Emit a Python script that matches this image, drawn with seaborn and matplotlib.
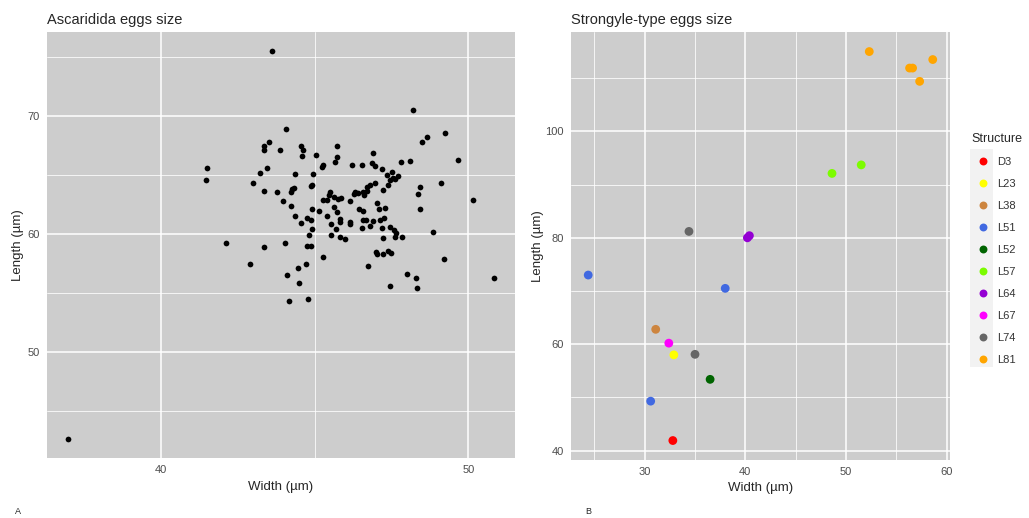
import numpy as np
import pandas as pd
import seaborn as sns
import matplotlib.pyplot as plt
from matplotlib.patches import Rectangle

# Panel A - Ascaridida eggs (width, length in µm)
asc_width = [
    41.49, 41.47, 42.12, 36.99,
    43.63, 48.21, 44.07, 48.67, 48.48, 49.24, 43.52, 43.36, 43.35, 43.88,
    44.55, 44.63, 44.60, 45.74, 45.04, 45.74, 45.68, 45.27, 45.23, 46.23,
    46.56, 46.91, 46.88, 46.97, 47.21, 47.82, 48.11, 49.67, 43.47, 43.22,
    43.00, 44.35, 44.95, 47.51, 47.37, 47.70, 47.56, 47.47, 47.62, 47.39,
    46.98, 46.82, 46.70, 46.72, 47.23, 48.42, 49.12, 48.37, 48.42, 50.16,
    43.37, 43.77, 44.22, 44.27, 44.33, 44.88, 44.92, 43.98, 44.23, 45.50,
    45.46, 45.42, 45.29, 45.64, 45.75, 45.85, 46.14, 46.31, 46.30, 46.40,
    46.58, 46.60, 45.62, 45.72, 44.92, 45.14, 44.36, 44.55, 44.74, 44.88,
    44.93, 44.82, 45.42, 45.54, 45.82, 45.84, 45.70, 45.53, 45.82, 46.00,
    46.14, 46.14, 46.45, 46.57, 47.03, 47.09, 47.29, 46.58, 46.67, 46.90,
    47.12, 47.25, 46.54, 46.79, 47.18, 47.44, 47.58, 47.66, 47.63, 47.84,
    47.24, 48.84, 44.04,
    43.35, 44.74, 44.87, 42.90, 45.29, 44.11, 44.47, 44.72, 44.50, 44.16,
    44.78, 46.75, 47.01, 47.03, 47.23, 47.39, 47.49, 49.22, 48.02, 48.30,
    48.33, 47.45, 50.83,
]
asc_length = [
    65.56, 64.52, 59.21, 42.63,
    75.45, 70.53, 68.90, 68.16, 67.77, 68.56, 67.77, 67.43, 67.09, 67.06,
    67.40, 67.14, 66.58, 67.45, 66.66, 66.52, 66.10, 65.84, 65.68, 65.79,
    65.79, 66.83, 66.01, 65.73, 65.48, 66.10, 66.18, 66.27, 65.56, 65.14,
    64.29, 65.05, 65.05, 65.25, 64.94, 64.86, 64.71, 64.52, 64.60, 64.15,
    64.29, 64.09, 63.92, 63.64, 63.73, 63.98, 64.29, 63.36, 62.06, 62.85,
    63.61, 63.56, 63.53, 63.81, 63.87, 64.04, 64.15, 62.79, 62.37, 63.56,
    63.30, 62.82, 62.85, 63.10, 62.96, 62.99, 62.77, 63.58, 63.33, 63.42,
    63.53, 63.25, 62.26, 61.83, 62.06, 61.89, 61.49, 60.90, 61.33, 61.13,
    60.42, 59.86, 61.49, 60.82, 61.21, 60.99, 60.42, 59.86, 59.69, 59.57,
    60.99, 60.79, 62.06, 61.97, 62.62, 62.09, 62.20, 61.18, 61.18, 61.10,
    61.18, 61.33, 60.48, 60.65, 60.48, 60.53, 60.31, 60.08, 59.72, 59.69,
    59.63, 60.17, 59.23,
    58.90, 58.99, 58.99, 57.40, 58.03, 56.53, 57.12, 57.46, 55.79, 54.30,
    54.44, 57.24, 58.45, 58.28, 58.31, 58.51, 58.34, 57.86, 56.59, 56.27,
    55.40, 55.54, 56.27,
]

# Panel B - Strongyle-type eggs
str_structure = ["D3", "L23", "L38", "L51", "L51", "L51", "L52", "L57", "L57",
                 "L64", "L64", "L67", "L74", "L74",
                 "L81", "L81", "L81", "L81", "L81"]
str_width = [32.8, 32.9, 31.1, 24.4, 38.0, 30.6, 36.5, 51.5, 48.6,
             40.2, 40.4, 32.4, 35.0, 34.4,
             52.3, 56.3, 56.6, 58.6, 57.3]
str_length = [41.9, 58.0, 62.8, 73.0, 70.5, 49.3, 53.4, 93.7, 92.1,
              80.0, 80.4, 60.2, 58.1, 81.2,
              115.0, 111.9, 111.9, 113.5, 109.4]

structure_levels = ["D3", "L23", "L38", "L51", "L52", "L57", "L64", "L67", "L74", "L81"]
structure_colors = ["#ff0000", "#ffff00", "#cd853f", "#4169e1", "#006400",
                    "#7cfc00", "#9400d3", "#ff00ff", "#666666", "#ffa500"]

PANEL = "#cdcdcd"
TICK = "#4d4d4d"


def gg_limits(values, mult=0.05):
    lo, hi = min(values), max(values)
    pad = (hi - lo) * mult
    return lo - pad, hi + pad


def gg_style(ax, xmajor, xminor, ymajor, yminor):
    ax.set_facecolor(PANEL)
    for s in ax.spines.values():
        s.set_visible(False)
    ax.set_xticks(xmajor)
    ax.set_yticks(ymajor)
    ax.set_xticks(xminor, minor=True)
    ax.set_yticks(yminor, minor=True)
    ax.grid(True, which="major", color="white", linewidth=1.1)
    ax.grid(True, which="minor", color="white", linewidth=0.55)
    ax.set_axisbelow(True)
    ax.tick_params(which="major", length=3, width=0.8, color=TICK,
                   labelcolor=TICK, labelsize=8, pad=2)
    ax.tick_params(which="minor", length=0)


sns.set_style("white")
plt.rcParams["font.family"] = ["Liberation Sans", "DejaVu Sans"]

fig = plt.figure(figsize=(10.29, 5.18), dpi=100)
ax1 = fig.add_axes([0.0457, 0.1158, 0.4548, 0.8222])
ax2 = fig.add_axes([0.5549, 0.1120, 0.3683, 0.8260])

df_a = pd.DataFrame({"Width": asc_width, "Length": asc_length})
sns.scatterplot(data=df_a, x="Width", y="Length", ax=ax1, color="black",
                s=17, linewidth=0, legend=False)
ax1.set_xlim(*gg_limits(asc_width))
ax1.set_ylim(*gg_limits(asc_length))
gg_style(ax1, [40, 50], [45], [50, 60, 70], [45, 55, 65, 75])
ax1.set_title("Ascaridida eggs size", loc="left", fontsize=10.5, pad=6)
ax1.set_xlabel("Width (µm)", fontsize=9.5, labelpad=4)
ax1.set_ylabel("Length (µm)", fontsize=9.5, labelpad=3)

df_b = pd.DataFrame({"Width": str_width, "Length": str_length,
                     "Structure": str_structure})
sns.scatterplot(data=df_b, x="Width", y="Length", hue="Structure",
                hue_order=structure_levels,
                palette=dict(zip(structure_levels, structure_colors)),
                ax=ax2, s=40, linewidth=0)
ax2.set_xlim(*gg_limits(str_width))
ax2.set_ylim(*gg_limits(str_length))
gg_style(ax2, [30, 40, 50, 60], [25, 35, 45, 55],
         [40, 60, 80, 100], [50, 70, 90, 110])
ax2.set_title("Strongyle-type eggs size", loc="left", fontsize=10.5, pad=6)
ax2.set_xlabel("Width (µm)", fontsize=9.5, labelpad=4)
ax2.set_ylabel("Length (µm)", fontsize=9.5, labelpad=1)

# legend keys background strip (behind everything)
fig.patches.append(Rectangle((970 / 1029, 1 - 367 / 518), 23 / 1029, 218 / 518,
                             transform=fig.transFigure, facecolor="#f2f2f2",
                             edgecolor="none", zorder=-5))
sns.move_legend(ax2, "upper left", bbox_to_anchor=(1.045, 0.775), frameon=False,
                title="Structure", fontsize=8, title_fontsize=9,
                labelspacing=1.08, handletextpad=0.3, borderaxespad=0,
                markerscale=0.9)
leg = ax2.get_legend()
leg._legend_box.align = "left"
for t in leg.get_texts():
    t.set_color("#333333")

fig.text(18 / 1029, 1 - 512 / 518, "A", fontsize=6.5, ha="center", va="center")
fig.text(588 / 1029, 1 - 512 / 518, "B", fontsize=6.5, ha="center", va="center")

fig.savefig("out.png", dpi=100, facecolor="white")
